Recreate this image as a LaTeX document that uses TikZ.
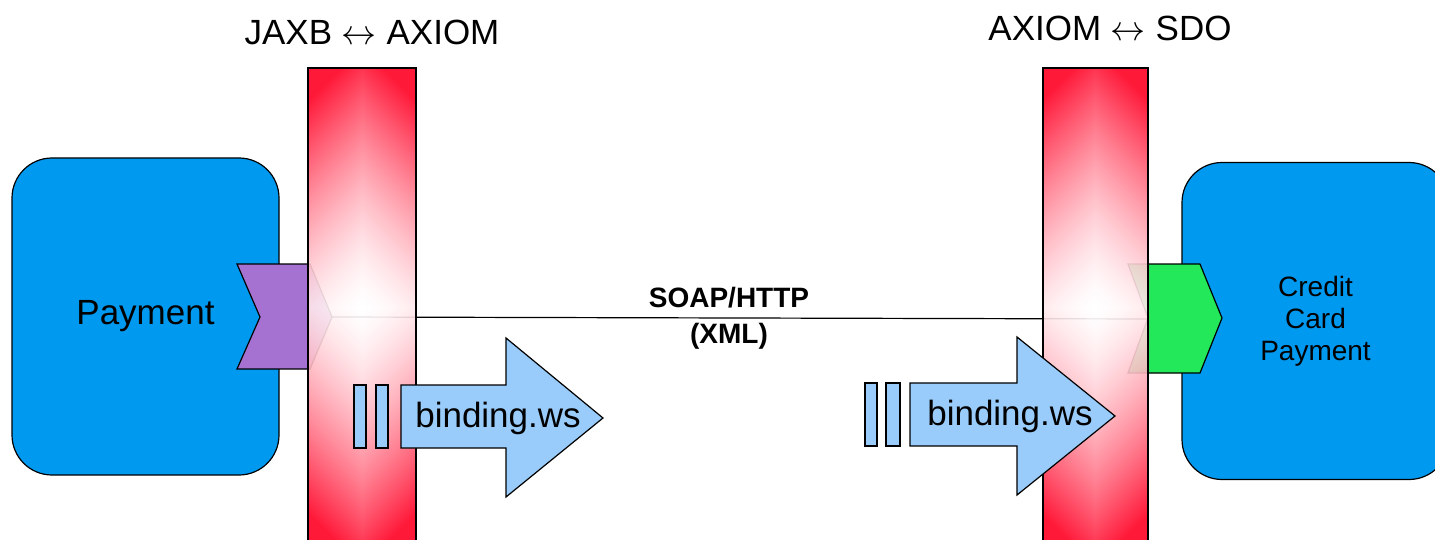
\RequirePackage{fix-cm}
\documentclass[tikz,border=0pt]{standalone}
\usepackage{fontspec}
\setmainfont{Liberation Sans}
\definecolor{procblue}{RGB}{0,153,240}
\definecolor{portpurple}{RGB}{166,114,210}
\definecolor{portgreen}{RGB}{34,232,90}
\definecolor{bindblue}{RGB}{153,204,250}
% white centre fading to red along |x|+|y|
\pgfdeclarefunctionalshading{layerglow}{\pgfpoint{-50bp}{-50bp}}{\pgfpoint{50bp}{50bp}}{}{
  abs exch abs add 25 div dup 1 gt {pop 1} if dup sqrt mul
  dup 1 exch sub exch 0.86 mul 1 exch sub 1 3 1 roll
}
\begin{document}
\begin{tikzpicture}[x=1pt,y=-1pt,
  outline/.style={draw=black,line width=1.2pt},
  procbox/.style={outline,fill=procblue,rounded corners=40pt,
    minimum width=267pt,minimum height=317pt,font=\fontsize{35}{40}\selectfont},
  bindarrow/.style={outline,fill=bindblue},
  bindlabel/.style={font=\fontsize{35}{40}\selectfont,inner sep=0pt},
  title/.style={font=\fontsize{35}{40}\selectfont}]

\useasboundingbox (0,0) rectangle (1435,540);

% the two components
\node[procbox] (payment) at (145.5,316.5) {Payment};
\node[procbox,align=center,font=\fontsize{28}{32}\selectfont] (credit) at (1315.5,321) {Credit\\Card\\Payment};

% reference and service
\filldraw[outline,fill=portpurple] (237,264) -- (310,264) -- (332,317) -- (310,369) -- (237,369) -- (260,317) -- cycle;
\filldraw[outline,fill=portgreen] (1128,264) -- (1200,264) -- (1222,318) -- (1200,373) -- (1128,373) -- (1148,318) -- cycle;
\coordinate (reftip) at (332,317);
\coordinate (srvnotch) at (1148,319);

% wire
\draw[line width=1.2pt] (reftip) -- (srvnotch);

% databinding layers
\begin{scope}
\clip (308,68) rectangle (416,545);
\shade[shading=layerglow,opacity=0.9] (102,47) rectangle (622,567);
\end{scope}
\draw[outline] (308,68) rectangle (416,545);

\begin{scope}
\clip (1043,68) rectangle (1148,545);
\shade[shading=layerglow,opacity=0.9] (835,47) rectangle (1355,567);
\end{scope}
\draw[outline] (1043,68) rectangle (1148,545);

% binding.ws, reference side
\filldraw[bindarrow] (354,385) rectangle (366,448);
\filldraw[bindarrow] (376,385) rectangle (388,448);
\filldraw[bindarrow] (401,385) -- (506,385) -- (506,338) -- (603,418) -- (506,497) -- (506,448) -- (401,448) -- cycle;
\node[bindlabel] (bindref) at (498,418) {binding.ws};

% binding.ws, service side
\begin{scope}[shift={(510,-2)}]
\filldraw[bindarrow] (355,385) rectangle (367,448);
\filldraw[bindarrow] (376,385) rectangle (390,448);
\filldraw[bindarrow] (400,385) -- (507,385) -- (507,339) -- (605,418) -- (507,497) -- (507,448) -- (400,448) -- cycle;
\node[bindlabel] (bindsrv) at (500,418) {binding.ws};
\end{scope}

% labels
\node[title] (jaxbaxiom) at (372,32) {JAXB $\leftrightarrow$ AXIOM};
\node[title] (axiomsdo) at (1110,28) {AXIOM $\leftrightarrow$ SDO};
\node[font=\bfseries\fontsize{28}{36}\selectfont,align=center] (soap) at (729,318) {SOAP/HTTP\\(XML)};
\end{tikzpicture}
\end{document}
